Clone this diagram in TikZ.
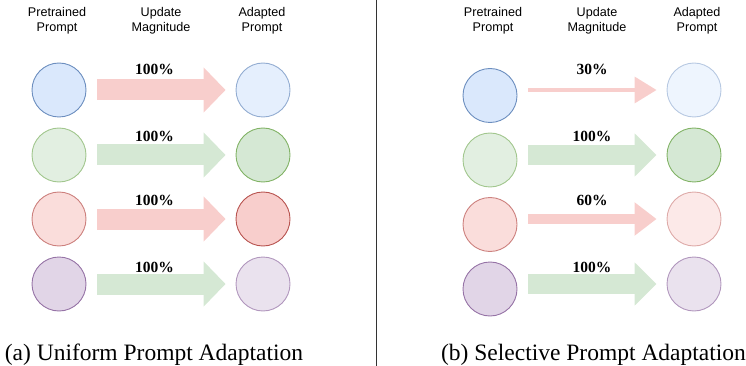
\documentclass[tikz,border=0pt]{standalone}
\usepackage{fontspec}
\setmainfont{Liberation Serif}
\setsansfont{Liberation Sans}
\usetikzlibrary{arrows.meta}
\definecolor{bluef}{HTML}{DAE8FC}
\definecolor{bluel}{HTML}{6C8EBF}
\definecolor{greenf}{HTML}{D5E8D4}
\definecolor{greenl}{HTML}{82B366}
\definecolor{redf}{HTML}{F8CECC}
\definecolor{redl}{HTML}{B85450}
\definecolor{purpf}{HTML}{E1D5E7}
\definecolor{purpl}{HTML}{9673A6}
\definecolor{divg}{HTML}{333333}

\begin{document}
\begin{tikzpicture}[x=1pt, y=-1pt,
          pc/.style={circle, inner sep=0pt, minimum size=54pt, line width=0.9pt},
          bc/.style={pc, draw=bluel, fill=bluef},
          gc/.style={pc, draw=greenl, fill=greenf},
          rc/.style={pc, draw=redl, fill=redf},
          vc/.style={pc, draw=purpl, fill=purpf},
          hd/.style={font=\sffamily\fontsize{12.6}{15}\selectfont, align=center, inner sep=0pt},
          pct/.style={font=\bfseries\fontsize{15.5}{18}\selectfont, inner sep=0pt, anchor=base},
          captxt/.style={font=\fontsize{23.5}{28}\selectfont, inner sep=0pt, anchor=base},
          upd/.style={-{Triangle[length=22pt, width=#1]}, shorten <=11pt, shorten >=10pt},
          redar/.style={draw=redf, upd=#1},
          grar/.style={draw=greenf, upd=#1}]
        \useasboundingbox (0,0) rectangle (746,366);
        % (a) uniform
        \node[hd] (hlp) at (57,21) {Pretrained\\Prompt};
        \node[hd] (hlu) at (161,21) {Update\\Magnitude};
        \node[hd] (hla) at (262,21) {Adapted\\Prompt};
        \node[bc] (lp1) at (59,90) {};
        \node[gc, opacity=0.7] (lp2) at (59,155) {};
        \node[rc, opacity=0.7] (lp3) at (59,219) {};
        \node[vc] (lp4) at (59,284) {};
        \node[bc, opacity=0.7] (la1) at (263,90) {};
        \node[gc] (la2) at (263,155) {};
        \node[rc] (la3) at (263,219) {};
        \node[vc, opacity=0.7] (la4) at (263,284) {};
        \draw [redar=44pt, line width=21pt] (lp1.east |- la1) -- (la1.west);
        \draw [grar=44pt, line width=21pt] (lp2.east |- la2) -- (la2.west);
        \draw [redar=44pt, line width=21pt] (lp3.east |- la3) -- (la3.west);
        \draw [grar=44pt, line width=21pt] (lp4.east |- la4) -- (la4.west);
        \node[pct] (lm1) at (154.5,75) {100\%};
        \node[pct] (lm2) at (154.5,142) {100\%};
        \node[pct] (lm3) at (154.5,205) {100\%};
        \node[pct] (lm4) at (154.5,272) {100\%};
        \node[captxt] (capa) at (154,360) {(a) Uniform Prompt Adaptation};
        % divider
        \draw [divg, line width=1pt] (376,0) -- (376,366);
        % (b) selective
        \node[hd] (hrp) at (493,21) {Pretrained\\Prompt};
        \node[hd] (hru) at (597,21) {Update\\Magnitude};
        \node[hd] (hra) at (697,21) {Adapted\\Prompt};
        \node[bc] (rp1) at (490,95.5) {};
        \node[gc, opacity=0.7] (rp2) at (490,160) {};
        \node[rc, opacity=0.7] (rp3) at (490,224.5) {};
        \node[vc] (rp4) at (490,289) {};
        \node[bc, opacity=0.45] (ra1) at (694,90) {};
        \node[gc] (ra2) at (694,155) {};
        \node[rc, opacity=0.45] (ra3) at (694,219) {};
        \node[vc, opacity=0.7] (ra4) at (694,284) {};
        \draw [redar=26pt, line width=3.5pt] (rp1.east |- ra1) -- (ra1.west);
        \draw [grar=42pt, line width=20pt] (rp2.east |- ra2) -- (ra2.west);
        \draw [redar=32pt, line width=10pt] (rp3.east |- ra3) -- (ra3.west);
        \draw [grar=42pt, line width=20pt] (rp4.east |- ra4) -- (ra4.west);
        \node[pct] (rm1) at (592,75) {30\%};
        \node[pct] (rm2) at (592,142) {100\%};
        \node[pct] (rm3) at (592,205) {60\%};
        \node[pct] (rm4) at (592,272) {100\%};
        \node[captxt] (capb) at (593.5,360) {(b) Selective Prompt Adaptation};
      \end{tikzpicture}
\end{document}
